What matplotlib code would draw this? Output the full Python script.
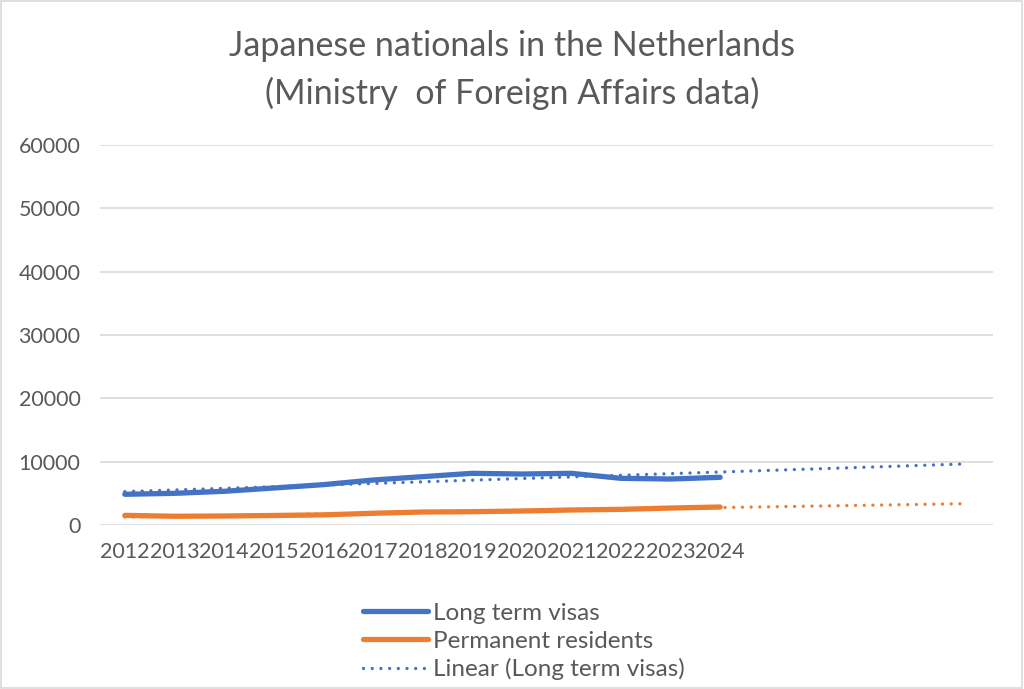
import matplotlib
matplotlib.use("Agg")
import matplotlib.pyplot as plt
import numpy as np
from matplotlib.lines import Line2D
from matplotlib.patches import Rectangle

years = ["2012", "2013", "2014", "2015", "2016", "2017", "2018",
         "2019", "2020", "2021", "2022", "2023", "2024"]
long_term_visas = [4850, 5000, 5320, 5840, 6370, 7100, 7630,
                   8160, 8050, 8160, 7370, 7260, 7530]
permanent_residents = [1520, 1380, 1420, 1500, 1600, 1850, 2050,
                       2100, 2210, 2370, 2470, 2680, 2840]
forecast_periods = 5
y_ticks = [0, 10000, 20000, 30000, 40000, 50000, 60000]

BLUE = "#4472C4"
ORANGE = "#ED7D31"
TEXT = "#595959"
GRID = "#D9D9D9"
FONT = "Lato"
DOT = (0, (0.01, 2.6))

fig = plt.figure(figsize=(10.24, 6.89), dpi=100)
fig.patch.set_facecolor("white")
fig.add_artist(Rectangle((0.001, 0.001), 0.997, 0.997, transform=fig.transFigure,
                         fill=False, edgecolor=GRID, linewidth=1.2))

ax = fig.add_axes([100 / 1024, 1 - 525 / 689, 893 / 1024, 380 / 689])

n = len(years)
x = np.arange(n)
x_all = np.arange(n + forecast_periods)

# trendlines (linear fit, forecast forward)
for series, col in ((long_term_visas, BLUE), (permanent_residents, ORANGE)):
    m, b = np.polyfit(x, series, 1)
    ax.plot(x_all, m * x_all + b, color=col, linewidth=2.4,
            linestyle=DOT, dash_capstyle="round", zorder=2)

ax.plot(x, long_term_visas, color=BLUE, linewidth=3.8, solid_capstyle="round", zorder=3)
ax.plot(x, permanent_residents, color=ORANGE, linewidth=3.8, solid_capstyle="round", zorder=3)

ax.set_xlim(-0.5, n + forecast_periods - 0.5)
ax.set_ylim(0, 60000)
ax.set_yticks(y_ticks)
ax.set_yticklabels([str(v) for v in y_ticks], fontfamily=FONT, fontsize=15.5, color=TEXT)
ax.set_xticks(x)
ax.set_xticklabels(years, fontfamily=FONT, fontsize=15.5, color=TEXT)
ax.tick_params(axis="both", length=0)
ax.tick_params(axis="y", pad=14)
ax.tick_params(axis="x", pad=12)
ax.grid(axis="y", color=GRID, linewidth=1.2)
ax.set_axisbelow(True)
for s in ax.spines.values():
    s.set_visible(False)

fig.text(0.5, 1 - 46 / 689, "Japanese nationals in the Netherlands", ha="center", va="center",
         fontfamily=FONT, fontsize=24.5, color=TEXT)
fig.text(0.5, 1 - 93 / 689, "(Ministry  of Foreign Affairs data)", ha="center", va="center",
         fontfamily=FONT, fontsize=24.5, color=TEXT)

handles = [
    Line2D([], [], color=BLUE, linewidth=3.8, solid_capstyle="round"),
    Line2D([], [], color=ORANGE, linewidth=3.8, solid_capstyle="round"),
    Line2D([], [], color=BLUE, linewidth=2.4, linestyle=DOT, dash_capstyle="round"),
]
labels = ["Long term visas", "Permanent residents", "Linear (Long term visas)"]
fig.legend(handles, labels, loc="upper left", bbox_to_anchor=(353 / 1024, 1 - 593 / 689),
           frameon=False, prop={"family": FONT, "size": 17.5}, labelcolor=TEXT,
           handlelength=2.7, handletextpad=0.2, labelspacing=0.28, borderaxespad=0)

fig.savefig("out.png", dpi=100, facecolor="white")
